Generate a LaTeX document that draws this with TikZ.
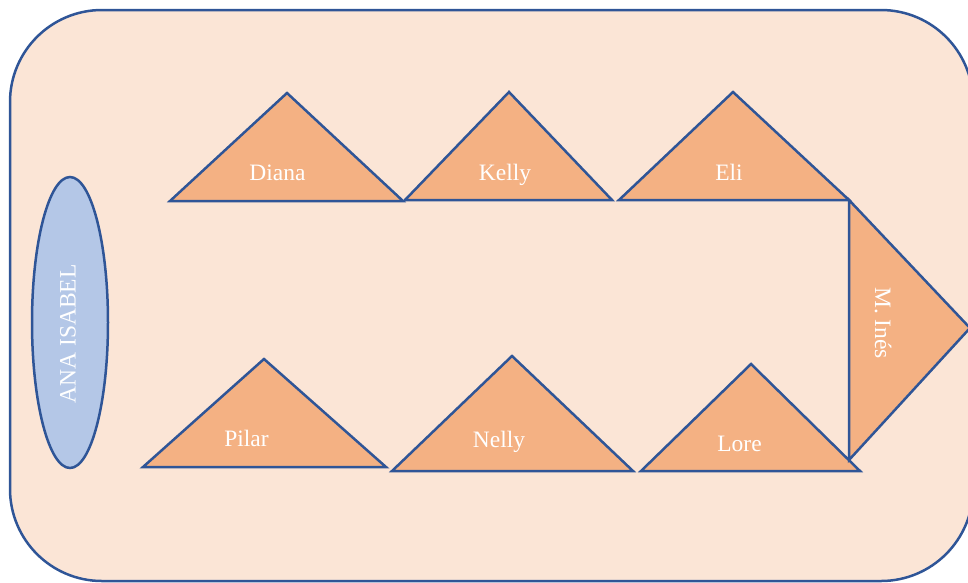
\documentclass[tikz,border=0pt]{standalone}
\usepackage{fontspec}
\setmainfont{Liberation Serif}
\definecolor{bgfill}{HTML}{FBE5D6}
\definecolor{trifill}{HTML}{F4B183}
\definecolor{ellfill}{HTML}{B4C7E7}
\definecolor{edge}{HTML}{2F5597}
\tikzset{
  tri/.style={draw=edge, fill=trifill, line width=2.5pt, line join=miter},
  lbl/.style={text=white, font=\fontsize{23.5}{26}\selectfont, inner sep=0pt, anchor=base},
  vlbl/.style={text=white, font=\fontsize{23.5}{26}\selectfont, inner sep=0pt}
}
\begin{document}
\begin{tikzpicture}[x=1pt, y=-1pt]
\useasboundingbox (0,0) rectangle (968,582);
\clip (0,0) rectangle (968,582);
% outer rounded frame
\draw[draw=edge, fill=bgfill, line width=2.5pt, rounded corners=92pt] (10,10) rectangle (973,581);
% ellipse
\draw[draw=edge, fill=ellfill, line width=2.5pt] (70,322.5) ellipse [x radius=38, y radius=145.5];
\node[vlbl, rotate=90] (ana) at (68,334) {ANA ISABEL};
% top row
\draw[tri] (170,201) -- (287,93) -- (403,201) -- cycle;
\node[lbl] (diana) at (277.5,180.7) {Diana};
\draw[tri] (405,200) -- (509,92) -- (612,200) -- cycle;
\node[lbl] (kelly) at (505,180) {Kelly};
\draw[tri] (619,200) -- (733,92) -- (849,200) -- cycle;
\node[lbl] (eli) at (729,180) {Eli};
% bottom row
\draw[tri] (143,467) -- (264,359) -- (386,467) -- cycle;
\node[lbl] (pilar) at (246.5,446.7) {Pilar};
\draw[tri] (392,471) -- (512,356) -- (633,471) -- cycle;
\node[lbl] (nelly) at (499,447.7) {Nelly};
\draw[tri] (641,471) -- (751,364) -- (860,471) -- cycle;
\node[lbl] (lore) at (739.5,451.7) {Lore};
% right triangle
\draw[tri] (849,200) -- (970,328) -- (849,460) -- cycle;
\node[vlbl, rotate=-90] (ines) at (883,323) {M. Inés};
\end{tikzpicture}
\end{document}
